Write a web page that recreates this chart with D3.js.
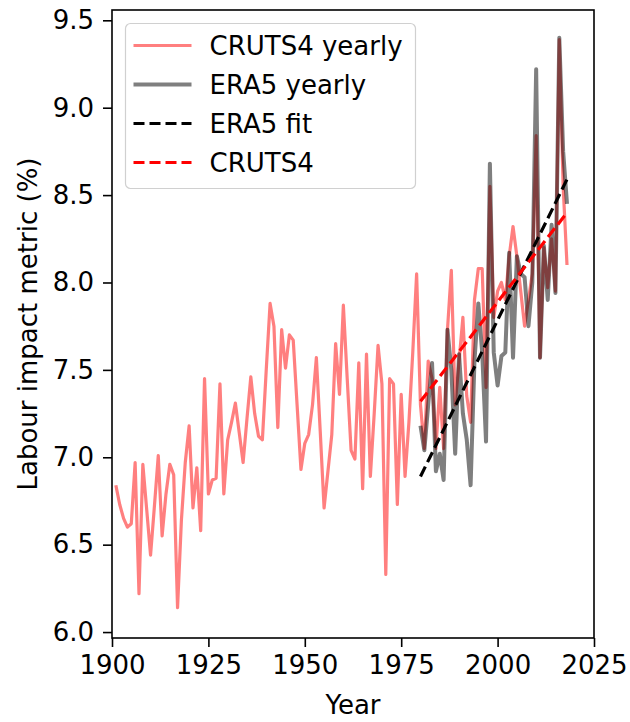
<!DOCTYPE html>
<html>
<head>
<meta charset="utf-8">
<script src="https://cdn.jsdelivr.net/npm/d3@7"></script>
<style>
  body { margin: 0; background: #fff; }
  svg text { font-family: "DejaVu Sans", sans-serif; }
</style>
</head>
<body>
<div id="chart"></div>
<script>
// CRUTS4 yearly, 1901-2018
const crutsStart = 1901;
const crutsValues = [
  6.84, 6.73, 6.65, 6.60, 6.62, 6.97, 6.22, 6.96, 6.70, 6.44,
  6.72, 7.01, 6.55, 6.79, 6.96, 6.90, 6.14, 6.64, 6.97, 7.18,
  6.71, 6.94, 6.58, 7.45, 6.79, 6.87, 6.88, 7.42, 6.79, 7.10,
  7.20, 7.31, 7.14, 6.97, 7.22, 7.46, 7.25, 7.12, 7.10, 7.50,
  7.88, 7.75, 7.17, 7.73, 7.51, 7.70, 7.67, 7.30, 6.93, 7.08,
  7.13, 7.30, 7.57, 7.15, 6.71, 6.92, 7.13, 7.65, 7.36, 7.87,
  7.45, 7.04, 6.99, 7.54, 6.82, 7.59, 6.89, 7.25, 7.64, 7.42,
  6.33, 7.45, 7.42, 6.73, 7.36, 6.89, 7.20, 7.60, 8.05, 7.30,
  7.05, 7.55, 7.45, 7.05, 7.40, 7.05, 7.73, 8.07, 7.30, 7.55,
  7.80, 7.35, 7.20, 7.90, 8.08, 8.08, 7.40, 8.55, 7.80, 7.95,
  8.00, 7.90, 8.15, 8.32, 8.15, 7.95, 7.75, 7.90, 8.05, 8.84,
  7.57, 8.20, 7.97, 8.25, 7.95, 9.39, 8.55, 8.10
];

// ERA5 yearly, 1980-2018
const era5Start = 1980;
const era5Values = [
  7.18, 7.04, 7.30, 7.54, 6.92, 7.02, 6.87, 7.73, 7.50, 7.02,
  7.59, 7.25, 7.10, 6.84, 7.55, 7.88, 7.60, 7.09, 8.68, 7.60,
  7.41, 7.58, 7.60, 8.17, 7.57, 8.15, 8.05, 8.03, 7.75, 8.00,
  9.22, 7.57, 8.21, 7.90, 8.33, 7.94, 9.40, 8.75, 8.45
];

// linear fits, end points
const fitYears = [1980, 2018];
const era5Fit = [6.89, 8.59];
const crutsFit = [7.32, 8.40];

const xTicks = [1900, 1925, 1950, 1975, 2000, 2025];
const yTicks = [6.0, 6.5, 7.0, 7.5, 8.0, 8.5, 9.0, 9.5];
const legendLabels = ["CRUTS4 yearly", "ERA5 yearly", "ERA5 fit", "CRUTS4"];

const W = 630, H = 722;
const margin = {top: 10, right: 36, bottom: 84, left: 112};
const width = W - margin.left - margin.right,
      height = H - margin.top - margin.bottom;

const svg = d3.select("#chart").append("svg")
  .attr("width", W)
  .attr("height", H);

const g = svg.append("g")
  .attr("transform", "translate(" + margin.left + "," + margin.top + ")");

const x = d3.scaleLinear().domain([1900, 2025]).range([0, width]);
const y = d3.scaleLinear().domain([5.966, 9.559]).range([height, 0]);

const toPoints = (start, vals) => vals.map((v, i) => ({year: start + i, v: v}));
const cruts = toPoints(crutsStart, crutsValues);
const era5 = toPoints(era5Start, era5Values);

const line = d3.line()
  .x(d => x(d.year))
  .y(d => y(d.v));

const fitLine = (vals) => fitYears.map((yr, i) => ({year: yr, v: vals[i]}));

// series
g.append("path")
  .attr("d", line(cruts))
  .attr("fill", "none")
  .attr("stroke", "red")
  .attr("stroke-opacity", 0.5)
  .attr("stroke-width", 3.2)
  .attr("stroke-linejoin", "round");

g.append("path")
  .attr("d", line(era5))
  .attr("fill", "none")
  .attr("stroke", "black")
  .attr("stroke-opacity", 0.5)
  .attr("stroke-width", 4)
  .attr("stroke-linejoin", "round");

g.append("path")
  .attr("d", line(fitLine(era5Fit)))
  .attr("fill", "none")
  .attr("stroke", "black")
  .attr("stroke-width", 3.2)
  .attr("stroke-dasharray", "11,5");

g.append("path")
  .attr("d", line(fitLine(crutsFit)))
  .attr("fill", "none")
  .attr("stroke", "red")
  .attr("stroke-width", 3.2)
  .attr("stroke-dasharray", "11,5");

// axes
const xAxis = g.append("g")
  .attr("transform", "translate(0," + height + ")")
  .call(d3.axisBottom(x).tickValues(xTicks).tickFormat(d3.format("d")).tickSize(9).tickPadding(9));

const yAxis = g.append("g")
  .call(d3.axisLeft(y).tickValues(yTicks).tickFormat(d3.format(".1f")).tickSize(9).tickPadding(9));

[xAxis, yAxis].forEach(a => {
  a.select(".domain").remove();
  a.selectAll("line").attr("stroke", "#000").attr("stroke-width", 1.6);
  a.selectAll("text").attr("fill", "#000").style("font-size", "26px")
    .style("font-family", "DejaVu Sans, sans-serif");
});

// frame
g.append("rect")
  .attr("width", width)
  .attr("height", height)
  .attr("fill", "none")
  .attr("stroke", "#000")
  .attr("stroke-width", 1.6);

// axis titles
svg.append("text")
  .attr("x", margin.left + width / 2)
  .attr("y", 714)
  .attr("text-anchor", "middle")
  .style("font-size", "26px")
  .text("Year");

svg.append("text")
  .attr("transform", "translate(37," + (margin.top + height / 2) + ") rotate(-90)")
  .attr("text-anchor", "middle")
  .style("font-size", "26px")
  .text("Labour impact metric (%)");

// legend
const legend = svg.append("g").attr("transform", "translate(125.5,23.5)");
legend.append("rect")
  .attr("width", 290)
  .attr("height", 165)
  .attr("rx", 5)
  .attr("fill", "#fff")
  .attr("fill-opacity", 0.8)
  .attr("stroke", "#d0d0d0")
  .attr("stroke-width", 1.2);

const legendStyles = [
  {stroke: "red", opacity: 0.5, w: 3.2, dash: null},
  {stroke: "black", opacity: 0.5, w: 4, dash: null},
  {stroke: "black", opacity: 1, w: 3.2, dash: "11,5"},
  {stroke: "red", opacity: 1, w: 3.2, dash: "11,5"}
];

const rows = legend.selectAll(".row")
  .data(legendLabels)
  .enter()
  .append("g")
  .attr("class", "row")
  .attr("transform", (d, i) => "translate(0," + (22 + i * 39) + ")");

rows.append("line")
  .attr("x1", 8).attr("x2", 66)
  .attr("stroke", (d, i) => legendStyles[i].stroke)
  .attr("stroke-opacity", (d, i) => legendStyles[i].opacity)
  .attr("stroke-width", (d, i) => legendStyles[i].w)
  .attr("stroke-dasharray", (d, i) => legendStyles[i].dash);

rows.append("text")
  .attr("x", 84)
  .attr("y", 9.5)
  .style("font-size", "26px")
  .text(d => d);
</script>
</body>
</html>
